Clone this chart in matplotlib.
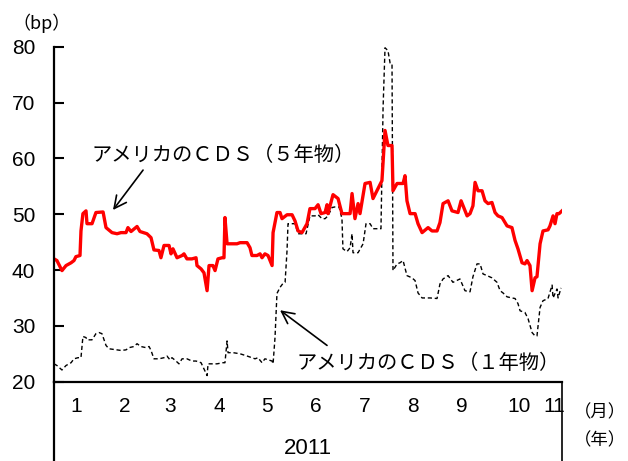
import matplotlib
matplotlib.use("Agg")
import matplotlib.pyplot as plt
from matplotlib.lines import Line2D

plt.rcParams['font.family'] = ['Noto Sans CJK JP', 'DejaVu Sans']

# day offsets from 1 Jan 2011 and spread levels (bp)
cds5_day = [0, 1.8, 4.9, 7.4, 10.5, 12.3, 13.5, 16.0, 16.6, 17.8, 19.7, 20.3, 23.4, 25.8,
            30.2, 32.0, 35.7, 38.8, 41.2, 44.3, 45.5, 47.4, 51.1, 52.9, 57.2, 59.7, 61.5,
            64.6, 65.8, 67.7, 70.8, 72.0, 73.2, 75.7, 78.8, 80.0, 81.8, 84.9, 87.4, 88.0,
            90.5, 92.3, 94.2, 95.4, 97.8, 99.1, 100.9, 103.4, 104.6, 105.2, 106.5, 112.6,
            114.5, 118.8, 120.6, 121.8, 124.9, 126.8, 128.0, 129.8, 131.7, 134.2, 134.8,
            137.2, 139.1, 140.3, 143.4, 146.5, 148.3, 150.2, 152.6, 155.7, 157.5, 160.6,
            162.5, 164.3, 166.8, 168.0, 168.6, 171.7, 173.5, 174.8, 177.2, 182.2, 183.4,
            185.2, 187.1, 188.3, 191.4, 194.5, 196.3, 199.4, 201.8, 203.7, 205.5, 208.0,
            208.6, 211.1, 214.8, 216.0, 217.2, 219.1, 222.2, 224.0, 226.5, 230.2, 232.6,
            235.7, 237.5, 239.4, 242.5, 244.9, 248.6, 250.5, 254.2, 256.0, 257.8, 259.1,
            260.9, 263.4, 265.2, 267.1, 269.5, 271.4, 273.2, 275.7, 278.8, 281.8, 283.7,
            285.5, 288.0, 289.8, 291.1, 292.9, 294.2, 296.0, 297.2, 299.1, 300.9, 304.0,
            305.2, 307.1, 308.3, 309.5, 310.8, 312.6]
cds5_bp = [42.0, 41.7, 39.9, 40.8, 41.3, 41.7, 42.4, 42.6, 47.0, 50.1, 50.6, 48.3, 48.3, 50.3,
           50.4, 47.6, 46.7, 46.5, 46.7, 46.7, 47.6, 46.9, 47.8, 46.9, 46.5, 45.8, 43.6,
           43.5, 42.2, 44.4, 44.4, 42.9, 43.8, 42.2, 42.6, 42.9, 42.0, 42.0, 42.2, 40.8,
           40.2, 39.5, 36.3, 40.8, 40.8, 39.9, 42.0, 42.2, 42.2, 49.4, 44.7, 44.7,
           44.9, 44.9, 44.0, 42.6, 42.6, 42.9, 42.2, 42.9, 42.6, 40.8, 46.7,
           50.3, 50.3, 49.2, 49.9, 49.9, 48.8, 47.0, 46.7, 48.3, 51.0, 51.0,
           51.7, 50.1, 50.3, 51.7, 50.1, 53.5, 53.1, 52.8, 50.1, 50.1, 53.7,
           49.2, 51.9, 50.1, 55.5, 55.7, 52.8, 54.6, 56.0, 65.0, 62.3, 62.3,
           54.2, 55.5, 55.5, 56.9, 52.4, 50.1, 50.1, 48.3, 46.7, 47.6, 47.0,
           47.0, 48.5, 51.9, 52.4, 50.6, 50.3, 52.4, 49.7, 50.1, 51.5, 55.7,
           54.2, 54.2, 52.4, 51.9, 52.1, 50.3, 49.7, 49.4, 47.9, 47.6, 45.3,
           43.8, 41.3, 41.1, 41.7, 40.8, 36.3, 38.6, 38.8, 44.7, 47.0, 47.2,
           47.9, 49.7, 48.3, 50.1, 50.1, 50.6]

cds1_day = [0, 1.8, 4.9, 7.4, 10.5, 12.3, 14.8, 16.6, 17.8, 19.7, 20.3, 23.4, 25.8, 27.7,
            29.5, 32.0, 33.8, 41.2, 44.3, 46.2, 49.2, 51.1, 53.5, 56.6, 58.5, 59.7, 61.5,
            64.6, 67.7, 69.5, 71.4, 72.6, 75.1, 76.9, 78.8, 81.8, 84.9, 87.4, 90.5, 92.3,
            94.2, 94.8, 100.3, 104.0, 105.2, 106.5, 107.1, 110.2, 114.5, 118.8, 121.8,
            123.7, 125.5, 128.0, 129.8, 134.2, 134.8, 136.0, 137.2, 139.1, 140.9, 142.2,
            143.4, 144.0, 148.3, 150.2, 155.1, 157.5, 160.6, 162.5, 164.9, 166.8, 168.6,
            171.1, 172.9, 175.4, 177.2, 177.8, 180.3, 182.2, 183.4, 184.0, 187.1, 190.2,
            192.0, 194.5, 196.3, 201.2, 202.5, 203.7, 205.5, 206.8, 208.0, 208.6, 211.1,
            212.9, 214.8, 217.2, 220.3, 222.2, 224.0, 226.5, 231.4, 235.7, 237.5, 239.4,
            242.5, 245.5, 249.8, 252.9, 256.0, 257.8, 260.3, 262.2, 264.0, 266.5, 269.5,
            272.6, 274.5, 276.3, 278.8, 281.8, 283.7, 285.5, 286.8, 289.8, 291.7, 294.2,
            296.0, 297.2, 299.1, 300.9, 304.0, 306.5, 307.1, 309.5, 310.2, 312.0]
cds1_bp = [23.2, 22.9, 22.1, 22.9, 23.4, 24.1, 24.3, 24.3, 28.1, 27.9, 27.5, 27.5, 28.6, 28.8,
           28.6, 26.5, 25.9, 25.6, 25.7, 26.1, 26.3, 26.8, 26.3, 26.1, 26.3, 25.6, 24.1,
           24.1, 24.3, 24.6, 23.9, 24.3, 23.7, 23.2, 24.1, 24.1, 23.7, 23.7, 23.4, 22.3,
           21.1, 23.2, 23.2, 23.4, 23.4, 27.3, 25.2, 25.2, 25.0, 24.6, 24.3,
           24.1, 24.3, 23.4, 24.1, 23.7, 23.2, 27.9, 35.8, 36.9, 37.6, 37.8,
           43.5, 48.3, 48.3, 46.5, 46.5, 49.7, 49.7, 49.9, 49.2, 49.2, 49.7,
           51.2, 51.3, 51.3, 49.2, 43.8, 43.3, 44.0, 46.5, 43.1, 43.1, 44.7,
           48.3, 48.3, 47.4, 47.4, 69.1, 79.8, 79.3, 77.1, 77.0, 39.9, 41.1,
           41.3, 41.7, 39.0, 38.6, 38.1, 35.9, 35.0, 35.0, 34.9, 37.5, 38.4,
           39.0, 37.8, 38.4, 36.3, 36.1, 38.8, 41.1, 41.1, 39.3, 39.0, 38.6,
           37.8, 36.3, 35.9, 35.2, 35.0, 34.9, 34.0, 32.7, 32.4, 31.3, 28.8,
           28.2, 28.2, 33.3, 34.5, 34.9, 37.3, 35.0, 36.6, 35.0, 36.8]

month_pos = [13.5, 43.7, 71.4, 101.5, 131, 161, 191, 221, 251, 286, 307.7]
month_labels = ['1', '2', '3', '4', '5', '6', '7', '8', '9', '10', '11']

num_font = 'Liberation Sans'

fig = plt.figure(figsize=(6.28, 4.61), dpi=100)
ax = fig.add_axes([54 / 628, 79.3 / 461, 508 / 628, 335 / 461])

ax.plot(cds1_day, cds1_bp, color='black', lw=1.0, linestyle=(0, (3, 2)))
ax.plot(cds5_day, cds5_bp, color='#ff0000', lw=2.4, solid_joinstyle='round')

ax.set_xlim(0, 312.6)
ax.set_ylim(20, 80)
ax.set_yticks(range(20, 81, 10))
ax.set_yticklabels([str(v) for v in range(20, 81, 10)], fontfamily=num_font, fontsize=15)
ax.tick_params(axis='y', direction='in', length=7, width=1.5, pad=13.5)
ax.set_xticks([])

for s in ['top', 'right']:
    ax.spines[s].set_visible(False)
for s in ['left', 'bottom']:
    ax.spines[s].set_linewidth(1.6)

# frame under the axis holding the month and year labels
for x in (0, 1):
    ax.add_line(Line2D([x, x], [0, -0.25], transform=ax.transAxes,
                       color='black', lw=1.6 if x == 0 else 1.2, clip_on=False))

for pos, lab in zip(month_pos, month_labels):
    ax.text(pos, 15.6, lab, ha='center', va='center', fontsize=15, fontfamily=num_font)
ax.text(0.5, -0.2, '2011', transform=ax.transAxes, ha='center', va='center',
        fontsize=16, fontfamily=num_font)

fig.text(600 / 628, 1 - 412 / 461, '（月）', ha='center', va='center', fontsize=12.5)
fig.text(600 / 628, 1 - 440 / 461, '（年）', ha='center', va='center', fontsize=12.5)
fig.text(42 / 628, 1 - 23 / 461, '（bp）', ha='center', va='center', fontsize=13)

arrow = dict(arrowstyle='->', color='black', lw=1.2, mutation_scale=22, shrinkA=0, shrinkB=0)
ax.annotate('', xy=(36.3, 50.75), xytext=(54.8, 57.9), arrowprops=arrow)
ax.annotate('', xy=(139.1, 32.8), xytext=(168, 26.5), arrowprops=arrow)
ax.text(104.3, 60.6, 'アメリカのＣＤＳ（５年物）', ha='center', va='center', fontsize=14.6)
ax.text(230.2, 23.3, 'アメリカのＣＤＳ（１年物）', ha='center', va='center', fontsize=14.6)

fig.savefig('out.png', dpi=100)
